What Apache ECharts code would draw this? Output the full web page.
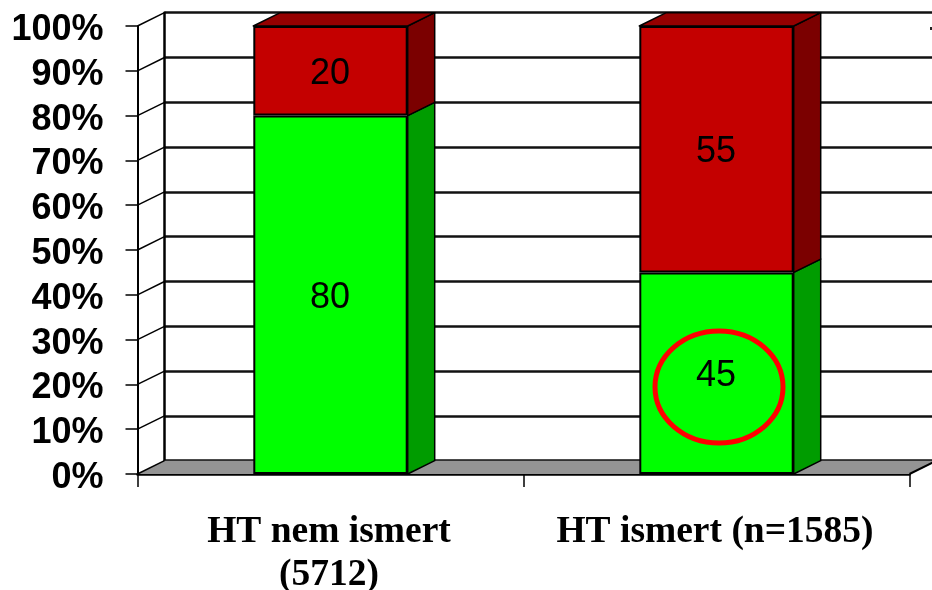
<!DOCTYPE html>
<html>
<head>
<meta charset="utf-8">
<style>html,body{margin:0;padding:0;background:#fff}#c{width:932px;height:590px;filter:blur(0.45px)}</style>
<script src="https://cdn.jsdelivr.net/npm/echarts@6/dist/echarts.min.js"></script>
</head>
<body>
<div id="c"></div>
<script>
const categories = ['HT nem ismert\n(5712)', 'HT ismert (n=1585)'];
const greenValues = [80, 45];
const redValues = [20, 55];
const yTicks = [0, 10, 20, 30, 40, 50, 60, 70, 80, 90, 100];

const DX = 27, DY = 13.3;
const BAR_SHARE = 0.4;
const INK = '#000';

const faces = [];
categories.forEach((c, i) => {
  faces.push({ value: [i, 0, greenValues[i]], side: '#009c00', top: null });
  faces.push({ value: [i, greenValues[i], greenValues[i] + redValues[i]], side: '#7b0000', top: '#950000' });
});

const valueLabel = { show: true, position: 'inside', offset: [-0.5, 3], color: '#000', fontFamily: 'Liberation Sans', fontSize: 36 };

const chart = echarts.init(document.getElementById('c'), null, { renderer: 'canvas' });
chart.setOption({
  animation: false,
  backgroundColor: '#fff',
  grid: [
    { left: 137.5, width: 772, top: 26, height: 448, outerBoundsMode: 'none' },
    { left: 164.5, width: 772, top: 12.7, height: 448, outerBoundsMode: 'none' },
    { left: 137.5, width: 772, top: 30, height: 448, outerBoundsMode: 'none' }
  ],
  xAxis: [
    {
      type: 'category', gridIndex: 0, data: categories,
      axisLine: { lineStyle: { color: INK, width: 2.5 } },
      axisTick: { show: true, alignWithLabel: false, length: 13, lineStyle: { color: INK, width: 1.5 } },
      axisLabel: {
        interval: 0, margin: 37, color: '#000', fontFamily: 'Liberation Serif',
        fontWeight: 'bold', fontSize: 37.5, lineHeight: 43, verticalAlign: 'top', padding: [0, 3, 0, 0]
      }
    },
    { type: 'value', gridIndex: 1, show: false, min: 0, max: 1 },
    { type: 'value', gridIndex: 2, show: false, min: 0, max: 1 }
  ],
  yAxis: [
    {
      type: 'value', gridIndex: 0, min: 0, max: 100, interval: 10,
      splitLine: { show: false },
      axisLine: { show: true, lineStyle: { color: INK, width: 2 } },
      axisTick: { show: true, length: 12, lineStyle: { color: INK, width: 1.5 } },
      axisLabel: { show: false }
    },
    {
      type: 'value', gridIndex: 1, min: 0, max: 100, interval: 10,
      axisLine: { show: true, onZero: false, lineStyle: { color: INK, width: 2.5 } },
      axisTick: { show: false }, axisLabel: { show: false },
      splitLine: { show: true, lineStyle: { color: '#111', width: 2.5, type: 'solid' } }
    },
    {
      type: 'value', gridIndex: 2, min: 0, max: 100, interval: 10,
      splitLine: { show: false }, axisLine: { show: false }, axisTick: { show: false },
      axisLabel: {
        margin: 34, color: '#000', fontFamily: 'Liberation Sans', fontWeight: 'bold', fontSize: 36,
        formatter: v => yTicks.includes(v) ? v + '%' : ''
      }
    }
  ],
  series: [
    {
      type: 'custom', xAxisIndex: 0, yAxisIndex: 0, z: 1, silent: true,
      data: [[0]],
      renderItem(params) {
        const r = params.coordSys;
        const b = r.y + r.height, x0 = r.x, x1 = r.x + r.width;
        return {
          type: 'group', children: [
            { type: 'polygon', shape: { points: [[x0, b], [x0 + DX, b - DY], [x1 + DX, b - DY], [x1, b]] }, style: { fill: '#949494' } },
            { type: 'line', shape: { x1: x1, y1: b, x2: x1 + DX, y2: b - DY }, style: { stroke: INK, lineWidth: 2 } }
          ]
        };
      }
    },
    {
      type: 'custom', xAxisIndex: 0, yAxisIndex: 0, z: 1, silent: true,
      data: yTicks.map(v => [v]),
      renderItem(params, api) {
        const x0 = params.coordSys.x;
        const y = api.coord([0, api.value(0)])[1];
        return { type: 'line', shape: { x1: x0, y1: y, x2: x0 + DX, y2: y - DY }, style: { stroke: INK, lineWidth: 1.5 } };
      }
    },
    {
      type: 'custom', xAxisIndex: 0, yAxisIndex: 0, z: 3, silent: true,
      data: faces,
      renderItem(params, api) {
        const f = faces[params.dataIndex];
        const half = api.size([1, 0])[0] * BAR_SHARE / 2;
        const lo = api.coord([api.value(0), api.value(1)]);
        const hi = api.coord([api.value(0), api.value(2)]);
        const xr = lo[0] + half, xl = lo[0] - half;
        const edge = { stroke: INK, lineWidth: 1.5, lineJoin: 'round' };
        const kids = [{
          type: 'polygon',
          shape: { points: [[xr, lo[1]], [xr + DX, lo[1] - DY], [xr + DX, hi[1] - DY], [xr, hi[1]]] },
          style: Object.assign({ fill: f.side }, edge)
        }];
        if (f.top) kids.push({
          type: 'polygon',
          shape: { points: [[xl, hi[1]], [xl + DX, hi[1] - DY], [xr + DX, hi[1] - DY], [xr, hi[1]]] },
          style: Object.assign({ fill: f.top }, edge)
        });
        return { type: 'group', children: kids };
      }
    },
    {
      name: 'green', type: 'bar', stack: 'a', xAxisIndex: 0, yAxisIndex: 0, z: 4,
      barWidth: (BAR_SHARE * 100) + '%', data: greenValues,
      itemStyle: { color: '#00ff00', borderColor: INK, borderWidth: 2 },
      label: valueLabel
    },
    {
      name: 'red', type: 'bar', stack: 'a', xAxisIndex: 0, yAxisIndex: 0, z: 4,
      barWidth: (BAR_SHARE * 100) + '%', data: redValues,
      itemStyle: { color: '#c40000', borderColor: INK, borderWidth: 2 },
      label: valueLabel
    }
  ],
  graphic: [
    { type: 'ellipse', z: 50, shape: { cx: 719, cy: 387, rx: 64, ry: 56 }, style: { fill: 'none', stroke: '#ff0000', lineWidth: 5 } },
    { type: 'rect', z: 50, shape: { x: 930, y: 27, width: 2, height: 3 }, style: { fill: '#222' } }
  ]
});
</script>
</body>
</html>
